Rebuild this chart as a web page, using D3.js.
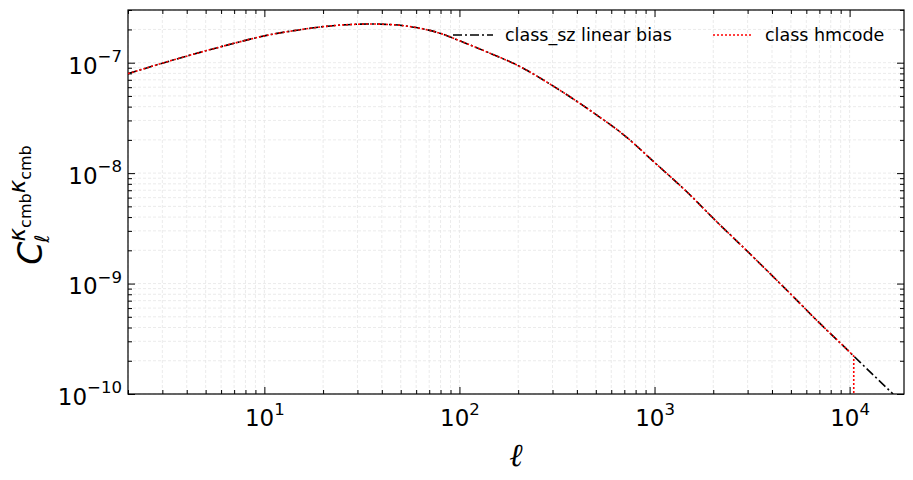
<!DOCTYPE html>
<html><head><meta charset="utf-8">
<script src="https://cdn.jsdelivr.net/npm/d3@7"></script>
<style>body{margin:0;background:#fff}svg{font-family:"DejaVu Sans",sans-serif}</style>
</head><body><svg id="c" width="913" height="480"></svg>
<script>
const ells = [2,3,5,7,10,15,20,28,35,45,60,80,100,140,200,300,500,700,1000,1500,2000,3000,5000,7000,10000,13000,16700];
const clSz = [7.95e-8,9.9e-8,1.28e-7,1.5e-7,1.75e-7,1.98e-7,2.12e-7,2.22e-7,2.24e-7,2.21e-7,2.08e-7,1.84e-7,1.58e-7,1.24e-7,9.4e-8,6.2e-8,3.4e-8,2.2e-8,1.25e-8,6.5e-9,3.9e-9,1.95e-9,8.0e-10,4.4e-10,2.4e-10,1.53e-10,1.0e-10];
const ellsHm = [2,3,5,7,10,15,20,28,35,45,60,80,100,140,200,300,500,700,1000,1500,2000,3000,5000,7000,10000,10500,10501];
const clHm = [7.95e-8,9.9e-8,1.28e-7,1.5e-7,1.75e-7,1.98e-7,2.12e-7,2.22e-7,2.24e-7,2.21e-7,2.08e-7,1.84e-7,1.58e-7,1.24e-7,9.4e-8,6.2e-8,3.4e-8,2.2e-8,1.25e-8,6.5e-9,3.9e-9,1.95e-9,8.0e-10,4.4e-10,2.4e-10,2.2e-10,1e-12];
const xTicks = [10,100,1000,10000];
const yTicks = [1e-10,1e-9,1e-8,1e-7];
const seriesNames = ["class_sz linear bias","class hmcode"];

const svg = d3.select("#c");
const L=128,R=904,T=10,B=394;
const x = d3.scaleLog().domain([2,19000]).range([L,R]);
const y = d3.scaleLog().domain([1e-10,3.0e-7]).range([B,T]);
const g = svg.append("g");
svg.append("clipPath").attr("id","cp").append("rect").attr("x",L).attr("y",T).attr("width",R-L).attr("height",B-T);

const xMinor=[], yMinor=[];
for (let d=1; d<=10000; d*=10) for (let k=2;k<=9;k++){const v=k*d; if(v>=2&&v<=19000) xMinor.push(v);}
for (let e=-10; e<-6; e++) for (let k=2;k<=9;k++){const v=k*Math.pow(10,e); if(v<=3e-7) yMinor.push(v);}

const grid = g.append("g").attr("stroke","#e6e6e6").attr("stroke-width",0.8).attr("stroke-dasharray","3,2");
xTicks.concat(xMinor).forEach(v=>grid.append("line").attr("x1",x(v)).attr("x2",x(v)).attr("y1",T).attr("y2",B));
yTicks.concat(yMinor).forEach(v=>grid.append("line").attr("y1",y(v)).attr("y2",y(v)).attr("x1",L).attr("x2",R));

function sup(sel, v){ const e=Math.round(Math.log10(v)); sel.text(""); sel.append("tspan").text("10"); sel.append("tspan").attr("dy","-0.7em").attr("font-size","0.72em").text(e<0?"\u2212"+(-e):e); }
const ax = svg.append("g").attr("transform",`translate(0,${B})`).call(d3.axisBottom(x).tickValues(xTicks).tickSize(-7).tickPadding(16).tickFormat(()=>""));
ax.selectAll(".tick text").each(function(v){sup(d3.select(this),v)}).attr("font-size",23).attr("font-family","DejaVu Sans");
svg.append("g").attr("transform",`translate(0,${B})`).call(d3.axisBottom(x).tickValues(xMinor).tickSize(-4).tickFormat(""));
svg.append("g").attr("transform",`translate(0,${T})`).call(d3.axisTop(x).tickValues(xTicks).tickSize(-7).tickFormat(""));
svg.append("g").attr("transform",`translate(0,${T})`).call(d3.axisTop(x).tickValues(xMinor).tickSize(-4).tickFormat(""));
const ay = svg.append("g").attr("transform",`translate(${L},0)`).call(d3.axisLeft(y).tickValues(yTicks).tickSize(-7).tickPadding(6).tickFormat(()=>""));
ay.selectAll(".tick text").each(function(v){sup(d3.select(this),v)}).attr("font-size",23).attr("font-family","DejaVu Sans").attr("dy","0.45em");
svg.append("g").attr("transform",`translate(${L},0)`).call(d3.axisLeft(y).tickValues(yMinor).tickSize(-4).tickFormat(""));
svg.append("g").attr("transform",`translate(${R},0)`).call(d3.axisRight(y).tickValues(yTicks).tickSize(-7).tickFormat(""));
svg.append("g").attr("transform",`translate(${R},0)`).call(d3.axisRight(y).tickValues(yMinor).tickSize(-4).tickFormat(""));
svg.selectAll(".domain").remove();
svg.append("rect").attr("x",L).attr("y",T).attr("width",R-L).attr("height",B-T).attr("fill","none").attr("stroke","#000").attr("stroke-width",1.2);

const line = d3.line().curve(d3.curveMonotoneX);
const lines = svg.append("g").attr("clip-path","url(#cp)").attr("fill","none");
lines.append("path").attr("d",line(ells.map((l,i)=>[x(l),y(clSz[i])]))).attr("stroke","#000").attr("stroke-width",1.6).attr("stroke-dasharray","9,3,2,3");
const n=ellsHm.length;
const redPts = ellsHm.slice(0,n-1).map((l,i)=>[x(l),y(clHm[i])]);
const redD = line(redPts) + "L" + x(ellsHm[n-1]) + "," + y(Math.max(clHm[n-1],1e-11));
lines.append("path").attr("d",redD).attr("stroke","red").attr("stroke-width",1.6).attr("stroke-dasharray","2,2");

const lg = svg.append("g").attr("font-size",17.5);
lg.append("line").attr("x1",453).attr("x2",493).attr("y1",35).attr("y2",35).attr("stroke","#000").attr("stroke-width",1.6).attr("stroke-dasharray","9,3,2,3");
lg.append("text").attr("x",505).attr("y",41).text(seriesNames[0]);
lg.append("line").attr("x1",713).attr("x2",753).attr("y1",35).attr("y2",35).attr("stroke","red").attr("stroke-width",1.6).attr("stroke-dasharray","2,2");
lg.append("text").attr("x",765).attr("y",41).text(seriesNames[1]);

svg.append("text").attr("x",(L+R)/2).attr("y",466).attr("text-anchor","middle").attr("font-size",32).attr("font-style","italic").attr("font-family","DejaVu Serif").text("\u2113");
const yl = svg.append("text").attr("transform","translate(42,205) rotate(-90)").attr("text-anchor","middle").attr("font-size",33).attr("font-family","DejaVu Sans");
yl.append("tspan").attr("font-style","italic").text("C");
yl.append("tspan").attr("font-style","italic").attr("font-size",20).attr("dy",7).attr("dx",-1).text("\u2113");
yl.append("tspan").attr("font-size",23).attr("dy",-24).attr("dx",-7).attr("font-style","italic").text("\u03ba");
yl.append("tspan").attr("font-size",16).attr("dy",6).text("cmb");
yl.append("tspan").attr("font-size",23).attr("dy",-6).attr("font-style","italic").text("\u03ba");
yl.append("tspan").attr("font-size",16).attr("dy",6).text("cmb");
</script></body></html>
